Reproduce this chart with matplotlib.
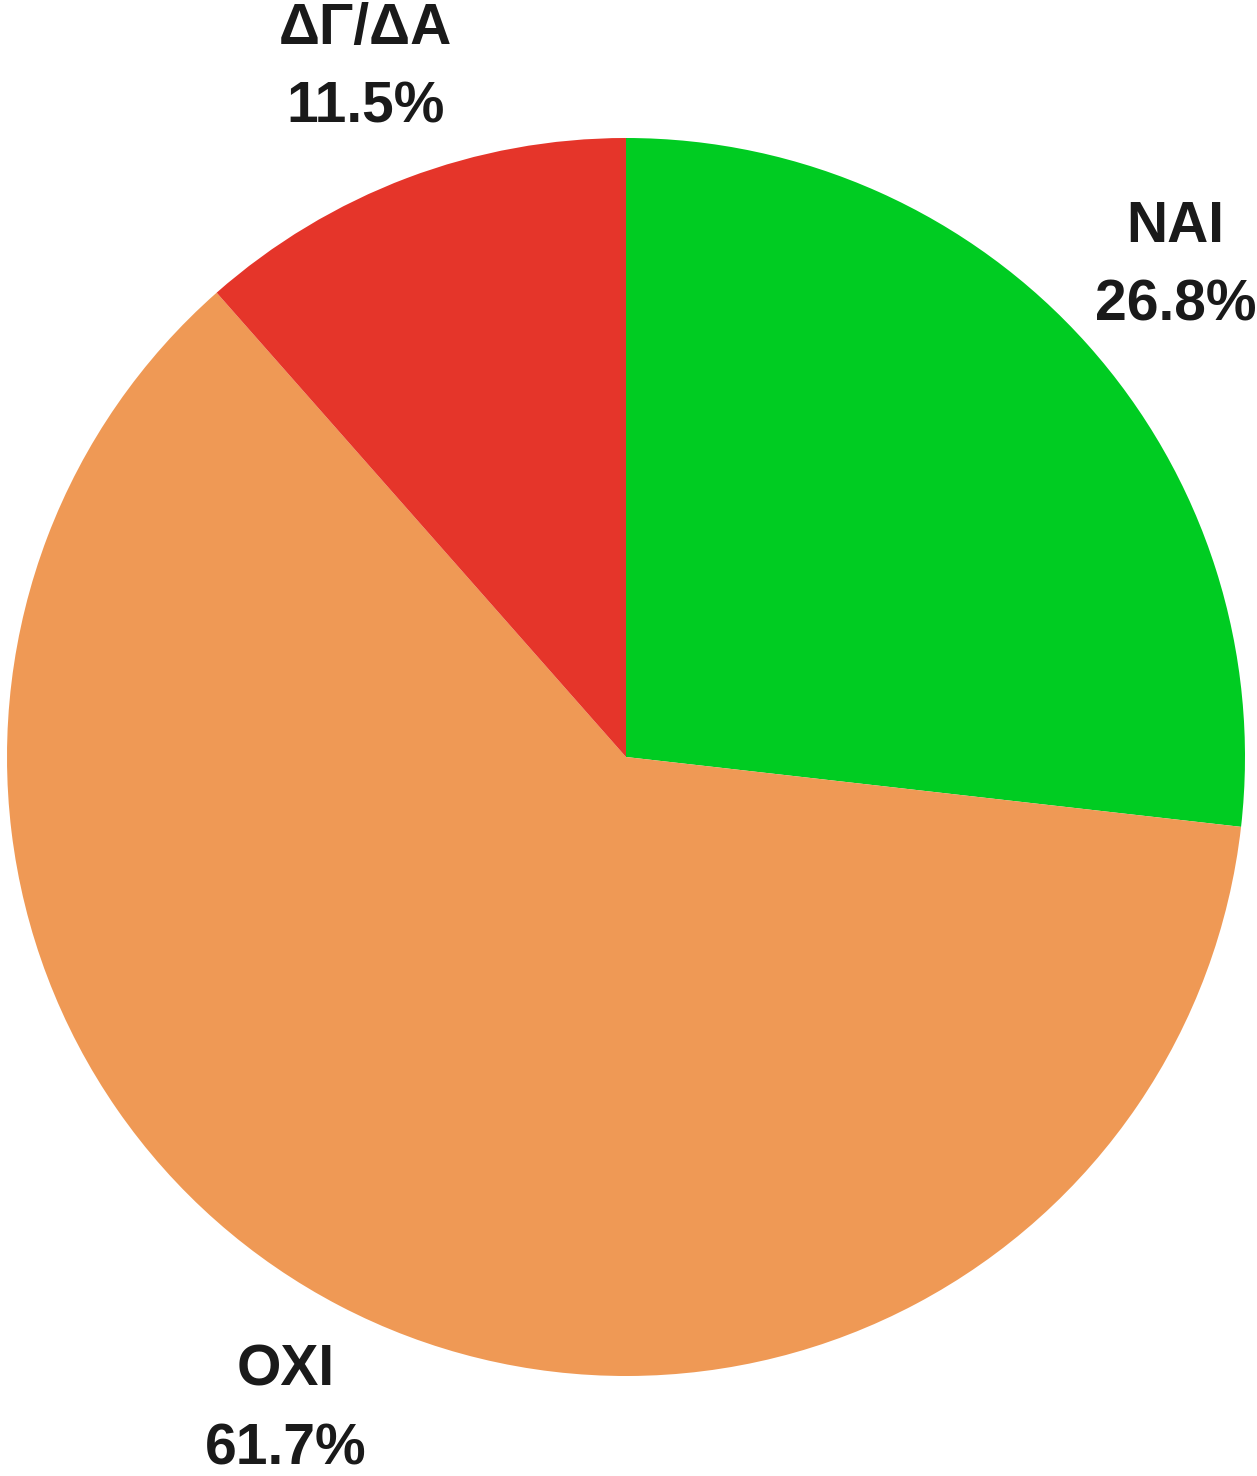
import numpy as np
import matplotlib
matplotlib.use("Agg")
import matplotlib.pyplot as plt

categories = ["ΝΑΙ", "ΟΧΙ", "ΔΓ/ΔΑ"]
shares = [26.8, 61.7, 11.5]
colors = ["#00CC22", "#EF9955", "#E5352A"]

plt.rcParams["font.family"] = ["Liberation Sans", "DejaVu Sans"]

W, H = 1257, 1476
fig = plt.figure(figsize=(W / 100, H / 100), dpi=100)
cx, cy, r = 626, 757, 619
ax = fig.add_axes([(cx - r) / W, (H - cy - r) / H, 2 * r / W, 2 * r / H])

wedges, _ = ax.pie(shares, colors=colors, startangle=90, counterclock=False,
                   radius=1.0, wedgeprops=dict(linewidth=0))
ax.set_xlim(-1, 1)
ax.set_ylim(-1, 1)
ax.set_aspect("equal")
ax.axis("off")

for w, name, val in zip(wedges, categories, shares):
    mid = np.deg2rad((w.theta1 + w.theta2) / 2)
    d = 1.19
    ax.text(d * np.cos(mid), d * np.sin(mid), f"{name}\n{val:.1f}%",
            ha="center", va="center", fontsize=41, fontweight="bold",
            color="#1a1a1a", linespacing=1.58, clip_on=False)

fig.savefig("out.png", dpi=100)
